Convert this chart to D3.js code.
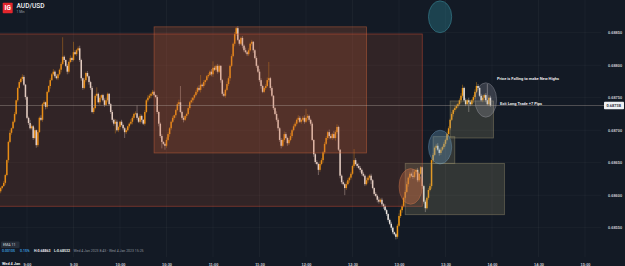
<!DOCTYPE html>
<html>
<head>
<meta charset="utf-8">
<title>AUD/USD 1 Min</title>
<script src="https://d3js.org/d3.v7.min.js"></script>
<style>
  body { margin: 0; background: #131a25; }
  svg { display: block; font-family: Roboto, "Open Sans", sans-serif; }
</style>
</head>
<body>
<svg width="625" height="266" class="chart"></svg>
<script>
// 1 minute candles, Wed 4 Jan 2023, first bar at 08:43
var startTime = "08:43";
var firstOpen = 0.68606;
var closes = [
  0.68611,0.68614,0.68619,0.68631,0.68654,0.68682,0.68696,0.68703,0.68713,0.68725,
  0.68746,0.68765,0.68774,0.68779,0.68782,0.68770,0.68751,0.68719,0.68711,0.68703,
  0.68706,0.68688,0.68700,0.68677,0.68697,0.68719,0.68716,0.68740,0.68743,0.68736,
  0.68759,0.68768,0.68777,0.68786,0.68790,0.68783,0.68780,0.68786,0.68793,0.68802,
  0.68813,0.68808,0.68799,0.68790,0.68805,0.68811,0.68808,0.68820,0.68817,0.68823,
  0.68826,0.68808,0.68780,0.68765,0.68777,0.68788,0.68783,0.68774,0.68765,0.68728,
  0.68734,0.68753,0.68756,0.68743,0.68750,0.68754,0.68746,0.68739,0.68746,0.68756,
  0.68740,0.68728,0.68716,0.68710,0.68713,0.68700,0.68705,0.68713,0.68708,0.68703,
  0.68697,0.68700,0.68706,0.68710,0.68713,0.68719,0.68725,0.68726,0.68719,0.68713,
  0.68722,0.68716,0.68710,0.68728,0.68746,0.68750,0.68753,0.68756,0.68759,0.68754,
  0.68751,0.68728,0.68710,0.68691,0.68682,0.68679,0.68676,0.68685,0.68694,0.68703,
  0.68713,0.68719,0.68723,0.68731,0.68740,0.68743,0.68728,0.68719,0.68716,0.68722,
  0.68725,0.68734,0.68743,0.68746,0.68750,0.68754,0.68759,0.68765,0.68762,0.68770,
  0.68768,0.68774,0.68777,0.68783,0.68785,0.68790,0.68786,0.68796,0.68793,0.68799,
  0.68790,0.68799,0.68777,0.68756,0.68753,0.68762,0.68771,0.68780,0.68799,0.68814,
  0.68833,0.68848,0.68857,0.68839,0.68833,0.68842,0.68830,0.68823,0.68820,0.68817,
  0.68823,0.68833,0.68836,0.68823,0.68811,0.68799,0.68790,0.68777,0.68768,0.68759,
  0.68765,0.68768,0.68777,0.68780,0.68765,0.68753,0.68734,0.68725,0.68716,0.68703,
  0.68685,0.68676,0.68685,0.68694,0.68688,0.68680,0.68685,0.68691,0.68700,0.68706,
  0.68710,0.68716,0.68719,0.68713,0.68716,0.68719,0.68713,0.68719,0.68722,0.68716,
  0.68710,0.68685,0.68663,0.68651,0.68648,0.68639,0.68648,0.68654,0.68666,0.68679,
  0.68688,0.68697,0.68691,0.68688,0.68694,0.68688,0.68697,0.68705,0.68670,0.68630,
  0.68620,0.68617,0.68611,0.68617,0.68623,0.68627,0.68633,0.68645,0.68654,0.68648,
  0.68645,0.68642,0.68639,0.68633,0.68630,0.68617,0.68623,0.68627,0.68630,0.68623,
  0.68611,0.68602,0.68599,0.68593,0.68590,0.68593,0.68586,0.68583,0.68577,0.68571,
  0.68562,0.68556,0.68550,0.68543,0.68540,0.68536,0.68553,0.68568,0.68577,0.68583,
  0.68596,0.68605,0.68617,0.68627,0.68633,0.68630,0.68628,0.68636,0.68639,0.68623,
  0.68633,0.68643,0.68614,0.68590,0.68580,0.68596,0.68608,0.68614,0.68654,0.68662,
  0.68673,0.68676,0.68670,0.68665,0.68670,0.68674,0.68679,0.68685,0.68694,0.68703,
  0.68716,0.68725,0.68731,0.68734,0.68737,0.68740,0.68746,0.68753,0.68765,0.68746,
  0.68740,0.68746,0.68743,0.68740,0.68746,0.68751,0.68759,0.68768,0.68765,0.68753,
  0.68746,0.68750,0.68754,0.68746,0.68740,0.68750,0.68738
];
// wick lengths beyond the body, in points (0.00001)
var wickUp = [
  2,1,3,2,1,2,4,1,2,3, 1,2,3,2,4,3,1,2,2,5, 3,2,4,1,3,2,4,2,3,1, 2,1,3,2,4,2,3,1,2,3,
  30,2,1,3,2,4,2,16,3,2, 3,4,2,1,3,2,3,1,2,3, 2,3,10,2,3,1,2,3,4,2, 1,2,3,2,4,3,2,1,3,2,
  2,3,1,2,4,3,2,3,12,2, 3,2,1,3,2,4,3,2,3,2, 1,3,2,2,3,1,2,4,3,2, 2,3,1,2,3,4,25,2,3,1,
  2,3,2,4,1,2,3,2,4,15, 2,3,1,2,3,2,4,10,3,2, 3,2,1,2,3,2,4,3,2,3, 2,3,2,3,1,2,3,2,4,2,
  3,2,3,1,2,3,2,4,3,2, 2,3,4,25,2,3,1,2,4,3, 2,3,2,4,3,2,3,5,2,3, 3,2,4,3,2,3,4,14,3,2,
  2,3,1,2,3,2,4,3,2,3, 3,2,4,3,2,5,3,4,2,1, 2,3,2,4,3,2,3,2,17,3, 2,4,3,2,3,2,4,3,2,3,
  2,1,3,2,4,2,3,2,3,2, 1,2,3,2,1,2,3,4,2,3, 2,3,4,2,3,2,10,3,2,3, 3,2,1,2,3,2,3,4,2,3,
  2,3,4,2,3,2,3,2,4,3, 2,3,2,4,3,2,3,4,5,2, 3,2,4,3,2,3,4,6,3,2, 3,4,2,3,25,4,3
];
var wickDn = [
  3,2,1,3,2,4,2,3,1,2, 2,3,1,2,3,2,4,2,3,2, 2,3,2,4,3,1,2,3,2,4, 3,2,4,1,2,3,2,3,2,4,
  2,3,2,4,3,2,3,2,1,3, 2,3,4,3,2,3,2,4,3,2, 3,2,3,2,4,3,2,3,2,3, 2,3,4,3,15,2,3,4,2,3,
  9,3,2,3,2,4,3,2,3,2, 3,4,2,3,2,3,2,4,3,2, 2,3,4,3,10,2,6,3,2,4, 3,2,3,4,2,3,2,3,4,2,
  3,2,3,2,4,3,2,3,2,4, 2,3,4,2,3,2,3,4,2,3, 3,2,4,3,2,3,2,3,4,2, 2,4,3,2,3,2,4,3,2,3,
  3,2,3,4,2,3,2,3,4,2, 2,3,2,3,4,2,3,2,3,4, 3,4,2,3,2,4,3,2,3,2, 2,3,4,2,3,2,3,2,4,3,
  3,2,4,3,2,8,3,2,4,3, 2,3,4,2,3,2,4,3,2,4, 3,2,11,3,2,4,3,2,3,2, 3,2,4,3,2,3,2,4,3,6,
  2,3,2,4,3,2,3,4,2,3, 3,2,4,3,2,4,3,2,3,4, 2,3,2,4,3,2,3,2,4,3, 3,2,4,3,6,2,3,2,4,3,
  2,3,2,4,3,2,3,4,2,3, 3,2,4,3,2,3,2,4,3,2, 3,2,15,3,2,4,3,2,3,2, 2,3,4,3,2,3,2
];
var timeTicks = ["09:00","09:30","10:00","10:30","11:00","11:30","12:00","12:30","13:00","13:30","14:00","14:30","15:00"];
var priceTicks = [0.68550, 0.68600, 0.68650, 0.68700, 0.68750, 0.68800, 0.68850];
var lastPrice = 0.68738;

// drawn zones: [from, to, top price, bottom price]
var supplyZone = ["08:42", "13:15", 0.68848, 0.68583];
var topZone = ["10:22", "12:39", 0.68859, 0.68665];
var demandZones = [
  ["13:04", "14:08", 0.68649, 0.68570],
  ["13:22", "13:36", 0.68690, 0.68649],
  ["13:33", "14:01", 0.68745, 0.68688]
];
// highlight circles: [from, to, top price, bottom price]
var circleNames = ["marker", "entry", "pullback", "exit"];
var circleSpans = [
  ["13:19", "13:34", 0.68899, 0.68850],
  ["13:00", "13:15", 0.68641, 0.68586],
  ["13:19", "13:34", 0.68700, 0.68648],
  ["13:49", "14:03", 0.68773, 0.68720]
];

var up = "#f29a12", down = "#ece6e1";
var parseT = d3.timeParse("%Y-%m-%d %H:%M");
function t(hm) { return parseT("2023-01-04 " + hm); }

var x = d3.scaleTime().domain([t("09:00"), t("15:00")]).range([27, 585]);
var y = d3.scaleLinear().domain([0.68550, 0.68850]).range([227.7, 32.7]);

var t0 = t(startTime);
var candles = closes.map(function(c, i) {
  var o = i === 0 ? firstOpen : closes[i - 1];
  return {
    time: d3.timeMinute.offset(t0, i),
    open: o,
    close: c,
    high: Math.max(o, c) + wickUp[i] / 1e5,
    low: Math.min(o, c) - wickDn[i] / 1e5
  };
});

var svg = d3.select("svg.chart");

// grid
var grid = svg.append("g").attr("stroke", "#ffffff").attr("stroke-opacity", 0.055).attr("stroke-width", 0.7);
grid.selectAll("line.v").data(timeTicks).join("line")
  .attr("class", "v")
  .attr("x1", function(d) { return x(t(d)); }).attr("x2", function(d) { return x(t(d)); })
  .attr("y1", 0).attr("y2", 257);
grid.selectAll("line.h").data(priceTicks).join("line")
  .attr("class", "h")
  .attr("x1", 0).attr("x2", 601)
  .attr("y1", function(d) { return y(d); }).attr("y2", function(d) { return y(d); });

// candles
var cg = svg.append("g");
cg.selectAll("line.wick").data(candles).join("line")
  .attr("class", "wick")
  .attr("x1", function(d) { return x(d.time); }).attr("x2", function(d) { return x(d.time); })
  .attr("y1", function(d) { return y(d.high); }).attr("y2", function(d) { return y(d.low); })
  .attr("stroke", function(d) { return d.close >= d.open ? up : down; })
  .attr("stroke-opacity", 0.55)
  .attr("stroke-width", 0.7);
cg.selectAll("rect.body").data(candles).join("rect")
  .attr("class", "body")
  .attr("x", function(d) { return x(d.time) - 0.75; })
  .attr("width", 1.5)
  .attr("y", function(d) { return y(Math.max(d.open, d.close)); })
  .attr("height", function(d) { return Math.max(0.8, Math.abs(y(d.open) - y(d.close))); })
  .attr("fill", function(d) { return d.close >= d.open ? up : down; });

// zones
function zoneRect(sel, z) {
  return sel.attr("x", x(t(z[0])))
    .attr("width", x(t(z[1])) - x(t(z[0])))
    .attr("y", y(z[2]))
    .attr("height", y(z[3]) - y(z[2]));
}
zoneRect(svg.append("rect"), supplyZone)
  .attr("fill", "rgba(190,85,45,0.18)")
  .attr("stroke", "rgba(200,75,50,0.6)").attr("stroke-width", 0.8);
zoneRect(svg.append("rect"), topZone)
  .attr("fill", "rgba(205,95,55,0.22)")
  .attr("stroke", "rgba(205,100,60,0.55)").attr("stroke-width", 0.8);
svg.selectAll("rect.demand").data(demandZones).join("rect")
  .attr("class", "demand")
  .each(function(z) { zoneRect(d3.select(this), z); })
  .attr("fill", "rgba(165,155,115,0.22)")
  .attr("stroke", "rgba(170,160,120,0.45)").attr("stroke-width", 0.8);

var circleFill = {
  marker: "rgba(40,115,130,0.45)", entry: "rgba(215,115,70,0.35)",
  pullback: "rgba(110,165,205,0.3)", exit: "rgba(165,165,175,0.25)"
};
var circleStroke = {
  marker: "rgba(60,135,150,0.8)", entry: "rgba(230,130,80,0.45)",
  pullback: "rgba(125,175,215,0.45)", exit: "rgba(175,175,185,0.45)"
};
svg.selectAll("ellipse.hl").data(circleSpans).join("ellipse")
  .attr("class", "hl")
  .attr("cx", function(d) { return (x(t(d[0])) + x(t(d[1]))) / 2; })
  .attr("cy", function(d) { return (y(d[2]) + y(d[3])) / 2; })
  .attr("rx", function(d) { return (x(t(d[1])) - x(t(d[0]))) / 2; })
  .attr("ry", function(d) { return (y(d[3]) - y(d[2])) / 2; })
  .attr("fill", function(d, i) { return circleFill[circleNames[i]]; })
  .attr("stroke", function(d, i) { return circleStroke[circleNames[i]]; })
  .attr("stroke-width", 0.7);

// last price line
svg.append("line")
  .attr("x1", 0).attr("x2", 604)
  .attr("y1", y(lastPrice)).attr("y2", y(lastPrice))
  .attr("stroke", "#b9aea4").attr("stroke-opacity", 0.6).attr("stroke-width", 0.6);

// axes
var yAxis = svg.append("g")
  .attr("transform", "translate(605,0)")
  .call(d3.axisRight(y).tickValues(priceTicks).tickSize(0).tickPadding(3).tickFormat(d3.format(".5f")));
yAxis.select(".domain").remove();
yAxis.selectAll("text").attr("fill", "#c9ccd2").attr("font-size", 3.9).attr("font-weight", 600);

var xAxis = svg.append("g")
  .attr("transform", "translate(0,258)")
  .call(d3.axisBottom(x).tickValues(timeTicks.map(t)).tickSize(0).tickPadding(5).tickFormat(d3.timeFormat("%-H:%M")));
xAxis.select(".domain").remove();
xAxis.selectAll("text").attr("fill", "#c9ccd2").attr("font-size", 3.9).attr("font-weight", 600);
svg.append("text").attr("x", 2).attr("y", 264.8)
  .attr("fill", "#e6e8ec").attr("font-size", 3.9).attr("font-weight", 700)
  .text("Wed 4 Jan");

// last price tag
var tag = svg.append("g").attr("transform", "translate(604," + y(lastPrice) + ")");
tag.append("rect").attr("x", 0).attr("y", -3.8).attr("width", 20).attr("height", 7.6).attr("rx", 0.8).attr("fill", "#eef0f3");
tag.append("text").attr("x", 2.5).attr("y", 1.4).attr("fill", "#1a212c")
  .attr("font-size", 3.9).attr("font-weight", 600).text(d3.format(".5f")(lastPrice));

// notes
svg.append("text").attr("x", 497).attr("y", 79.5)
  .attr("fill", "#f2f2f2").attr("font-size", 4).attr("font-weight", 600)
  .text("Price is Falling to make New Highs");
svg.append("text").attr("x", 500).attr("y", 104.8)
  .attr("fill", "#f2f2f2").attr("font-size", 4).attr("font-weight", 600)
  .text("Exit Long Trade +7 Pips");

// header
svg.append("rect").attr("x", 2.7).attr("y", 2.7).attr("width", 10).attr("height", 10.5).attr("rx", 0.8).attr("fill", "#e3262d");
svg.append("text").attr("x", 7.7).attr("y", 10.2).attr("text-anchor", "middle")
  .attr("fill", "#ffffff").attr("font-size", 6.5).attr("font-weight", 700).text("IG");
svg.append("text").attr("x", 16.5).attr("y", 8.3)
  .attr("fill", "#f0f2f5").attr("font-size", 6.6).attr("font-weight", 500).text("AUD/USD");
svg.append("text").attr("x", 16.5).attr("y", 12.6)
  .attr("fill", "#9aa1ab").attr("font-size", 3.3).text("1 Min");

// study legend
svg.append("rect").attr("x", 1).attr("y", 241.5).attr("width", 18.5).attr("height", 6.5).attr("rx", 1).attr("fill", "#262e3a");
svg.append("text").attr("x", 3).attr("y", 246.2).attr("fill", "#d4d7dc").attr("font-size", 3.6).text("EMA 11");
var info = [
  { x: 2, c: "#3c9ee0", w: 600, s: "0.00105" },
  { x: 20, c: "#3c9ee0", w: 600, s: "0.15%" },
  { x: 34, c: "#e6e8ec", w: 700, s: "H:0.68863" },
  { x: 54, c: "#e6e8ec", w: 700, s: "L:0.68532" },
  { x: 73.5, c: "#8c939d", w: 400, s: "Wed 4 Jan 2023 8:43 - Wed 4 Jan 2023 15:25" }
];
svg.selectAll("text.info").data(info).join("text")
  .attr("class", "info")
  .attr("x", function(d) { return d.x; }).attr("y", 252.3)
  .attr("fill", function(d) { return d.c; })
  .attr("font-weight", function(d) { return d.w; })
  .attr("font-size", 3.5)
  .text(function(d) { return d.s; });
</script>
</body>
</html>
